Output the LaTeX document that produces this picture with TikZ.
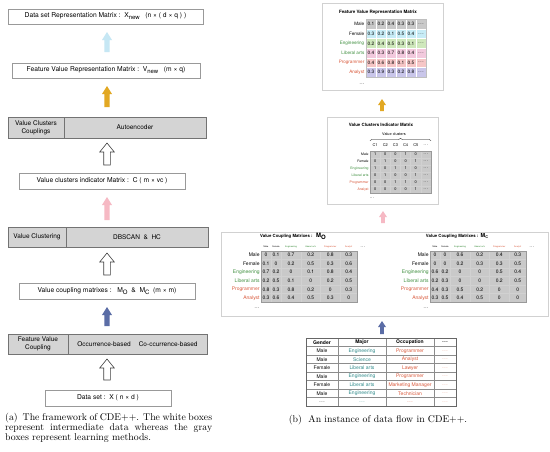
\documentclass[tikz,border=0pt]{standalone}
\usepackage{fontspec}
\newfontfamily\hv{TeX Gyre Heros}
\usetikzlibrary{calc,decorations.pathreplacing}
\definecolor{cgreen}{HTML}{3F8F3F}
\definecolor{cred}{HTML}{D9583A}
\definecolor{cteal}{HTML}{2E8A8A}
\definecolor{boxgray}{HTML}{D4D4D4}
\definecolor{cellgray}{HTML}{C9C9C9}
\definecolor{arrblue}{HTML}{C6E7F4}
\definecolor{arryellow}{HTML}{E2A823}
\definecolor{arrpink}{HTML}{F6B9C4}
\definecolor{arrnavy}{HTML}{5B6DA6}
\definecolor{rgray}{HTML}{C9C9C9}
\definecolor{rblue}{HTML}{C7ECF6}
\definecolor{rgreen}{HTML}{CFE8BC}
\definecolor{rpink}{HTML}{F2C9DD}
\definecolor{rred}{HTML}{F6C6C6}
\definecolor{rviolet}{HTML}{C9C6EA}
\newcommand\myfs[1]{\fontsize{#1}{#1}\selectfont}
\newcommand\mysub[1]{\raisebox{-1.9pt}{\myfs{6}#1}}
\newcommand\tdots{.\kern0.6pt.\kern0.6pt.}
% block arrow: style, from, to, shaft half, head half, head length
\newcommand\blockarrow[6]{%
  \path[#1] let \p1=(#2), \p2=(#3) in
   (\x1-#4,\y1) -- (\x1-#4,\y2-#6) -- (\x1-#5,\y2-#6) -- (\x2,\y2)
   -- (\x1+#5,\y2-#6) -- (\x1+#4,\y2-#6) -- (\x1+#4,\y1) -- cycle;}
% coupling matrix: x0, node prefix, data rows
\newcommand\couplemat[3]{%
  \fill[cellgray] (#1,250.7) rectangle (#1+96.5,302.3);
  \foreach \xo in {10,20,40,59.5,79} \draw[cellline] (#1+\xo,250.7) -- (#1+\xo,302.3);
  \foreach \k in {1,2,3,4,5} \draw[cellline] (#1,250.7+8.6*\k) -- (#1+96.5,250.7+8.6*\k);
  \draw[black!40,line width=0.4pt] (#1,250.7) rectangle (#1+96.5,302.3);
  \foreach \h/\c/\xc [count=\j] in {Male/black/5,Female/black/15,Engineering/cgreen/30,Liberal arts/cgreen/49.75,Programmer/cred/69.25,Analyst/cred/87.75}
    \node[lbl=2.2,text=\c] (#2h\j) at (#1+\xc,246.6) {\h};
  \node[lbl=4] (#2hd) at (#1+102,247) {\tdots};
  \foreach \lab/\tc/\vals [count=\i from 0] in {#3} {
    \node[lbl=5,text=\tc,anchor=east] (#2l\i) at (#1-1.2,255+8.6*\i) {\lab};
    \foreach \v [count=\j from 0] in \vals {
      \pgfmathsetmacro\xc{{5,15,30,49.75,69.25,87.75}[\j]}
      \node[lbl=5] (#2c\i\j) at (#1+\xc,255+8.6*\i) {\v};}
  }
  \node[lbl=4.5] (#2dots) at (#1-4,308) {\tdots};
}
\begin{document}
\begin{tikzpicture}[x=1pt,y=-1pt,
  wbox/.style={draw=black!40,line width=0.5pt,fill=white,inner sep=0pt,font=\hv\myfs{6.7}},
  gbox/.style={draw=black!55,line width=0.6pt,fill=boxgray,inner sep=0pt,align=center,font=\hv\fontsize{6.5}{7.6}\selectfont},
  lbl/.style={inner sep=0pt,font=\hv\myfs{#1}},
  ttl/.style={inner sep=0pt,font=\hv\bfseries\myfs{#1}},
  cellline/.style={draw=white!82!black,line width=0.5pt},
  panel/.style={draw=black!18,line width=0.6pt,fill=white,inner sep=0pt},
  carrow/.style={fill=#1},
  warrow/.style={fill=white,draw=black!75,line width=0.6pt}]
\useasboundingbox[fill=white] (0,0) rectangle (550,451);

% ---------------- left column ----------------
\node[wbox,minimum width=195pt,minimum height=15pt] (L1) at (105.5,16.5)
  {Data set Representation Matrix :\ \ X\mysub{new}\ \ \ (n × ( d × q ) )};
\node[wbox,minimum width=188pt,minimum height=15pt] (L2) at (106,70.5)
  {Feature Value Representation Matrix :\ \ V\mysub{new}\ \ \ (m × q)};
\node[gbox,minimum width=56pt,minimum height=21pt] (L3a) at (36,127.5) {Value Clusters\\Couplings};
\node[gbox,minimum width=142pt,minimum height=21pt] (L3b) at (135,127.5) {Autoencoder};
\node[wbox,minimum width=166pt,minimum height=16pt] (L4) at (102,181)
  {Value clusters indicator Matrix :\ \ C ( m × vc )};
\node[gbox,minimum width=58pt,minimum height=20pt] (L5a) at (37,237) {Value Clustering};
\node[gbox,minimum width=142pt,minimum height=20pt] (L5b) at (137,237) {DBSCAN\ \ \&\ \ HC};
\node[wbox,minimum width=176pt,minimum height=16pt] (L6) at (107,291)
  {Value coupling matrixes :\ \ \ M\mysub{O}\ \ \&\ \ M\mysub{C}\ \ (m × m)};
\node[gbox,minimum width=60pt,minimum height=20pt] (L7a) at (38,344) {Feature Value\\Coupling};
\node[gbox,minimum width=139pt,minimum height=20pt] (L7b) at (137.5,344) {Occurrence-based\hspace{8pt}Co-ccurrence-based};
\node[wbox,minimum width=126pt,minimum height=16pt] (L8) at (108,398) {Data set :\ \ X ( n × d )};

\coordinate (a1b) at (107,52);  \coordinate (a1t) at (107,32);
\coordinate (a2b) at (107,107); \coordinate (a2t) at (107,86);
\coordinate (a3b) at (107,165); \coordinate (a3t) at (107,143);
\coordinate (a4b) at (107,220); \coordinate (a4t) at (107,197);
\coordinate (a5b) at (107,275); \coordinate (a5t) at (107,253);
\coordinate (a6b) at (107,326); \coordinate (a6t) at (107,307);
\coordinate (a7b) at (107,380); \coordinate (a7t) at (107,359);
\blockarrow{carrow=arrblue}{a1b}{a1t}{2.6pt}{5pt}{8pt}
\blockarrow{carrow=arryellow}{a2b}{a2t}{2.6pt}{5pt}{8pt}
\blockarrow{warrow}{a3b}{a3t}{3.3pt}{7.3pt}{9pt}
\blockarrow{carrow=arrpink}{a4b}{a4t}{2.6pt}{5pt}{8pt}
\blockarrow{warrow}{a5b}{a5t}{3.3pt}{7.3pt}{9pt}
\blockarrow{carrow=arrnavy}{a6b}{a6t}{2.6pt}{5pt}{8pt}
\blockarrow{warrow}{a7b}{a7t}{3.3pt}{7.3pt}{9pt}

\node[anchor=north west,text width=207pt,align=justify,inner sep=0pt,font=\rmfamily\fontsize{9.8}{10}\selectfont] (capa) at (5,412.5)
  {(a)\ \ The framework of CDE++. The white boxes\linebreak represent intermediate data whereas the gray\linebreak boxes represent learning methods.};

% ---------------- right: feature value representation ----------------
\node[panel,minimum width=121pt,minimum height=87pt] (R1) at (382.5,46.5) {};
\node[ttl=4.5] (R1t) at (378,12) {Feature Value Representation Matrix};
\foreach \lab/\rc/\tc/\vals [count=\i from 0] in {
  Male/rgray/black/{0.1,0.2,0.4,0.3,0.3},
  Female/rblue/black/{0.3,0.2,0.1,0.5,0.4},
  Engineering/rgreen/cgreen/{0.2,0.4,0.5,0.3,0.1},
  Liberal arts/rpink/cgreen/{0.4,0.3,0.7,0.8,0.4},
  Programmer/rred/cred/{0.4,0.6,0.8,0.1,0.5},
  Analyst/rviolet/cred/{0.3,0.9,0.3,0.2,0.8}}{
  \pgfmathsetmacro\yt{19.5+9.6*\i}
  \fill[\rc] (366,\yt) rectangle (426,\yt+9.6);
  \node[lbl=4.6,text=\tc,anchor=east] (fvl\i) at (364.5,\yt+4.8) {\lab};
  \foreach \v [count=\j from 0] in \vals {\node[lbl=4.8] (fv\i\j) at (371+10*\j,\yt+4.8) {\v};}
  \node[lbl=4.8] (fv\i d) at (421,\yt+4.8) {\tdots};
}
\foreach \k in {1,2,3,4,5} \draw[white,line width=0.6pt] (366+10*\k,19.5) -- (366+10*\k,77.1);
\foreach \k in {1,2,3,4,5} \draw[white,line width=0.6pt] (366,19.5+9.6*\k) -- (426,19.5+9.6*\k);
\draw[black!25,line width=0.4pt] (366,19.5) rectangle (426,77.1);
\node[lbl=4.5] (fvdots) at (362,84) {\tdots};

\coordinate (r1b) at (382,111); \coordinate (r1t) at (382,99);
\blockarrow{carrow=arryellow}{r1b}{r1t}{1.8pt}{4pt}{6pt}

% ---------------- right: value clusters indicator ----------------
\node[panel,minimum width=111pt,minimum height=87pt] (R2) at (382.5,160.5) {};
\node[ttl=4.4] (R2t) at (381,125) {Value Clusters Indicator Matrix};
\node[lbl=3.8] (R2vc) at (394,134) {Value clusters};
\draw[decorate,decoration={brace,amplitude=2pt},line width=0.4pt] (370,140.5) -- (431,140.5);
\foreach \h [count=\j from 0] in {C1,C2,C3,C4,C5}
  \node[lbl=3.9] (ich\j) at (375.1+10.17*\j,145) {\h};
\node[lbl=3.9] (ichd) at (425.9,145) {\tdots};
\fill[cellgray] (370,151) rectangle (431,193);
\foreach \lab/\tc/\vals [count=\i from 0] in {
  Male/black/{1,0,0,1,0},
  Female/black/{0,1,0,0,1},
  Engineering/cgreen/{1,0,1,1,0},
  Liberal arts/cgreen/{0,1,0,0,1},
  Programmer/cred/{0,0,1,1,0},
  Analyst/cred/{0,0,0,0,1}}{
  \node[lbl=3.4,text=\tc,anchor=east] (icl\i) at (368.8,154.5+7*\i) {\lab};
  \foreach \v [count=\j from 0] in \vals {\node[lbl=3.9] (ic\i\j) at (375.1+10.17*\j,154.5+7*\i) {\v};}
  \node[lbl=3.9] (ic\i d) at (425.9,154.5+7*\i) {\tdots};
}
\foreach \k in {1,2,3,4,5} \draw[cellline] (370+10.17*\k,151) -- (370+10.17*\k,193);
\foreach \k in {1,2,3,4,5} \draw[cellline] (370,151+7*\k) -- (431,151+7*\k);
\draw[black!40,line width=0.4pt] (370,151) rectangle (431,193);
\node[lbl=3.8] (icdots) at (372,198.5) {\tdots};

\coordinate (r2b) at (383,223); \coordinate (r2t) at (383,211);
\blockarrow{carrow=arrpink}{r2b}{r2t}{1.8pt}{4pt}{6pt}

% ---------------- right: value coupling matrices ----------------
\node[panel,minimum width=327pt,minimum height=84pt] (R3) at (384.5,274) {};
\node[ttl=4.3] (R3t1) at (293,236) {Value Coupling Matrixes :\ \ \ {\myfs{6}M\mysub{O}}};
\node[ttl=4.3] (R3t2) at (457,236) {Value Coupling Matrixes :\ \ {\myfs{5.5}M\raisebox{-1.2pt}{\myfs{3.8}C}}};
\couplemat{261}{mo}{Male/black/{0,0.1,0.7,0.2,0.8,0.3},
  Female/black/{0.1,0,0.2,0.5,0.3,0.6},
  Engineering/cgreen/{0.7,0.2,0,0.1,0.8,0.4},
  Liberal arts/cgreen/{0.2,0.5,0.1,0,0.2,0.5},
  Programmer/cred/{0.8,0.3,0.8,0.2,0,0.3},
  Analyst/cred/{0.3,0.6,0.4,0.5,0.3,0}}
\couplemat{430}{mc}{Male/black/{0,0,0.6,0.2,0.4,0.3},
  Female/black/{0,0,0.2,0.3,0.3,0.5},
  Engineering/cgreen/{0.6,0.2,0,0,0.5,0.4},
  Liberal arts/cgreen/{0.2,0.3,0,0,0.2,0.5},
  Programmer/cred/{0.4,0.3,0.5,0.2,0,0},
  Analyst/cred/{0.3,0.5,0.4,0.5,0,0}}

\coordinate (r3b) at (382,334); \coordinate (r3t) at (382,321);
\blockarrow{carrow=arrnavy}{r3b}{r3t}{1.8pt}{4pt}{6pt}

% ---------------- right: data table ----------------
\foreach \k in {1,2,3,4,5,6,7} \draw[black!45,line width=0.4pt] (306,338+8.5*\k) -- (456,338+8.5*\k);
\foreach \xx in {338,386,434} \draw[black!45,line width=0.4pt] (\xx,338) -- (\xx,406);
\draw[black!60,line width=0.5pt] (306,338) rectangle (456,406);
\node[ttl=5] (th1) at (322,342.25) {Gender};
\node[ttl=5] (th2) at (362,342.25) {Major};
\node[ttl=5] (th3) at (410,342.25) {Occupation};
\node[ttl=5] (th4) at (445,342.25) {\tdots};
\foreach \g/\m/\o [count=\i] in {Male/Engineering/Programmer,Male/Science/Analyst,Female/Liberal arts/Lawyer,Male/Engineering/Programmer,Female/Liberal arts/Marketing Manager,Male/Engineering/Technician}{
  \node[lbl=5] (tg\i) at (322,342.25+8.5*\i) {\g};
  \node[lbl=5,text=cteal] (tm\i) at (362,342.25+8.5*\i) {\m};
  \node[lbl=5,text=cred] (to\i) at (410,342.25+8.5*\i) {\o};
  \node[lbl=5,text=cred!70] (td\i) at (445,342.25+8.5*\i) {\tdots};
}
\node[lbl=5] (tg7) at (322,401.75) {\tdots};
\node[lbl=5,text=cteal] (tm7) at (362,401.75) {\tdots};
\node[lbl=5,text=cred] (to7) at (410,401.75) {\tdots};
\node[lbl=5,text=cred!70] (td7) at (445,401.75) {\tdots};

\node[font=\rmfamily\myfs{9.8},inner sep=0pt] (capb) at (378,420) {(b)\ \ An instance of data flow in CDE++.};
\end{tikzpicture}
\end{document}
